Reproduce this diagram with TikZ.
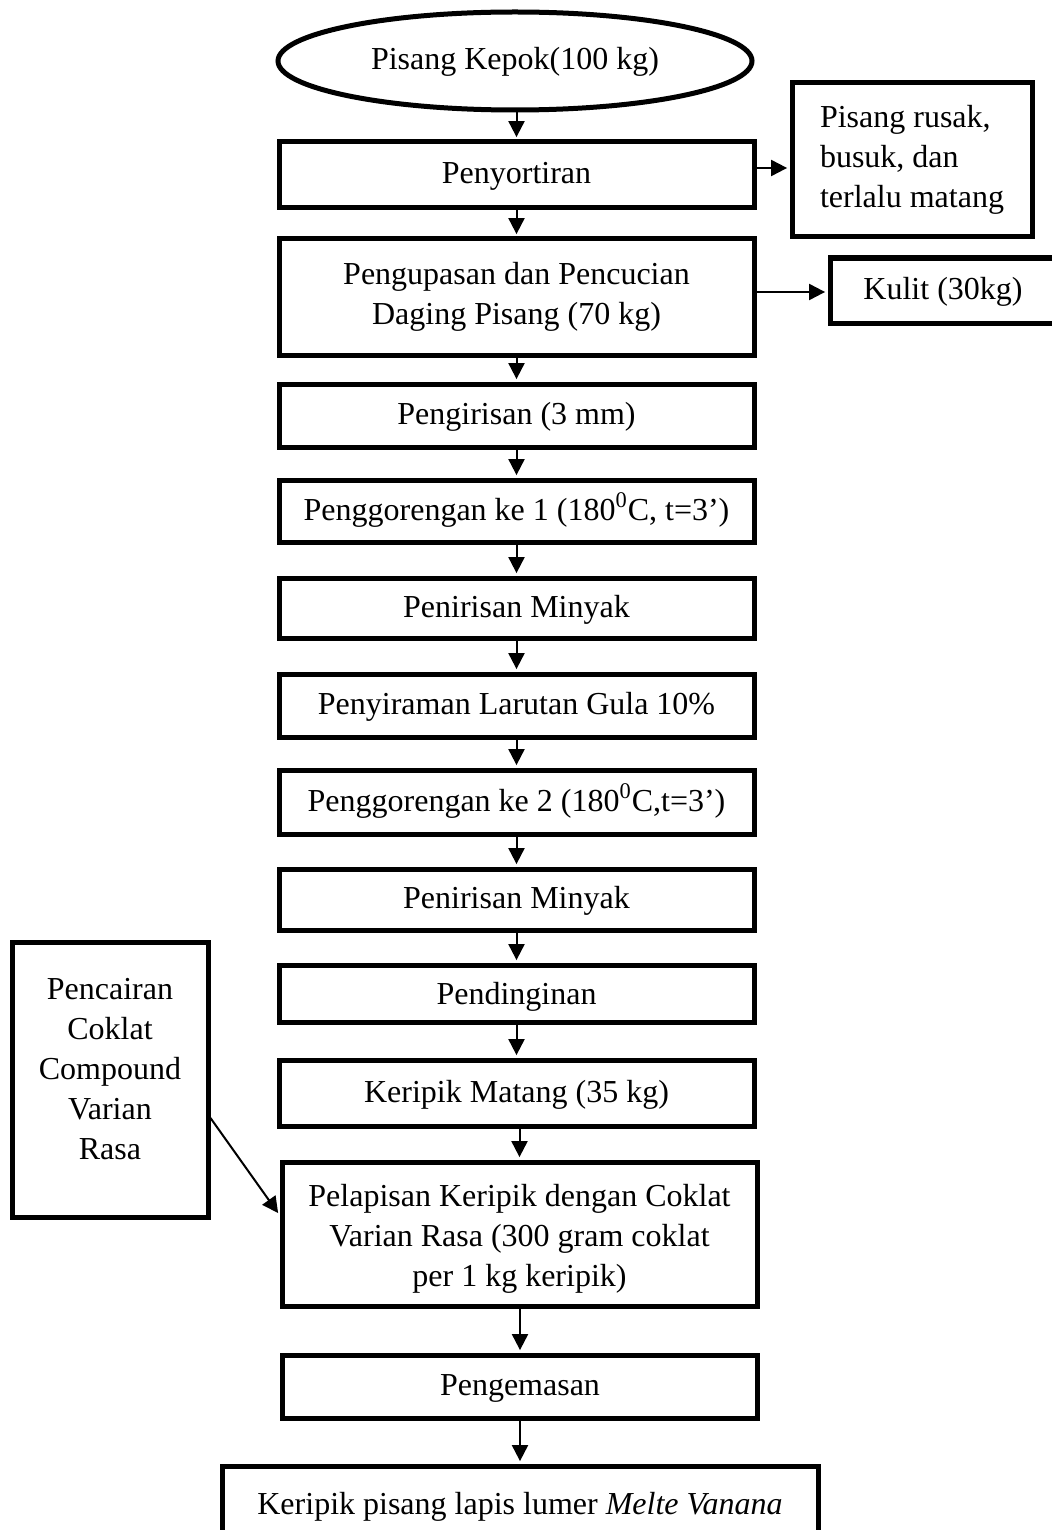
\documentclass[tikz,border=0pt]{standalone}
\usepackage{fontspec}
\setmainfont{Liberation Serif}
\usetikzlibrary{arrows.meta,shapes.geometric}
\newcommand{\kpFont}{\fontsize{16}{20}\selectfont}

\begin{document}
\begin{tikzpicture}[x=0.5pt,y=-0.5pt,
  kpBox/.style={draw, line width=2.5pt, inner sep=0pt, align=center, font=\kpFont},
  kpStep/.style={kpBox, minimum width=237.5pt},
  kpLine/.style={text height=0.9em, text depth=0pt},
  kpArrow/.style={line width=1pt, shorten >=1.2pt, -{Triangle[length=8pt,width=8pt]}}]
\useasboundingbox (0,0) rectangle (1052,1530);
\clip (0,0) rectangle (1052,1530);
\node[ellipse, draw, line width=2.5pt, inner sep=0pt, minimum width=237pt, minimum height=49pt, font=\kpFont, kpLine] (kepok) at (515,61) {Pisang Kepok(100 kg)};
\node[kpStep, kpLine, minimum height=33pt] (sortir) at (516.5,175) {Penyortiran};
\node[kpStep, minimum height=58pt] (kupas) at (516.5,297) {Pengupasan dan Pencucian\\Daging Pisang (70 kg)};
\node[kpStep, kpLine, minimum height=31.5pt] (iris) at (516.5,415.5) {Pengirisan (3 mm)};
\node[kpStep, kpLine, minimum height=31pt] (goreng1) at (516.5,511) {Penggorengan ke 1 (180\textsuperscript{0}C, t=3’)};
\node[kpStep, kpLine, minimum height=30pt] (tiris1) at (516.5,608) {Penirisan Minyak};
\node[kpStep, kpLine, minimum height=31.5pt] (siram) at (516.5,705.5) {Penyiraman Larutan Gula 10\%};
\node[kpStep, kpLine, minimum height=32pt] (goreng2) at (516.5,802) {Penggorengan ke 2 (180\textsuperscript{0}C,t=3’)};
\node[kpStep, kpLine, minimum height=30.5pt] (tiris2) at (516.5,899.5) {Penirisan Minyak};
\node[kpStep, kpLine, minimum height=28.5pt, text height=1.1em] (dingin) at (516.5,993.5) {Pendinginan};
\node[kpStep, kpLine, minimum height=33pt] (matang) at (516.5,1093) {Keripik Matang (35 kg)};
\node[kpStep, minimum height=72pt] (lapis) at (519.5,1234) {\rule{0pt}{15.5pt}Pelapisan Keripik dengan Coklat\\Varian Rasa (300 gram coklat\\per 1 kg keripik)};
\node[kpStep, kpLine, minimum height=31.5pt] (kemas) at (520,1386.5) {Pengemasan};
\node[kpBox, kpLine, minimum width=298pt, minimum height=39pt] (produk) at (520,1505) {Keripik pisang lapis lumer \textit{Melte Vanana}};
% side boxes
\node[kpBox, align=left, minimum width=120pt, minimum height=77pt] (rusak) at (912,160) {Pisang rusak,\\busuk, dan\\terlalu matang};
\node[kpBox, kpLine, minimum width=113pt, minimum height=32.5pt] (kulit) at (943,290.5) {Kulit (30kg)};
\node[kpBox, minimum width=98pt, minimum height=137.5pt] (cokelat) at (110,1079.5) {Pencairan\\Coklat\\Compound\\Varian\\Rasa\\[-9pt]};
% main flow
\foreach \a/\b in {kepok/sortir, sortir/kupas, kupas/iris, iris/goreng1, goreng1/tiris1, tiris1/siram, siram/goreng2, goreng2/tiris2, tiris2/dingin, dingin/matang, matang/lapis, lapis/kemas, kemas/produk}
  \draw[kpArrow] (\b.north |- \a.south) -- (\b.north);
\draw[kpArrow] ([yshift=3.5pt]sortir.east) -- ([yshift=3.5pt]sortir.east -| rusak.west);
\draw[kpArrow] ([yshift=2.5pt]kupas.east) -- ([yshift=2.5pt]kupas.east -| kulit.west);
\draw[kpArrow] ([yshift=-19.25pt]cokelat.east) -- ([yshift=9.5pt]lapis.west);
\end{tikzpicture}
\end{document}
